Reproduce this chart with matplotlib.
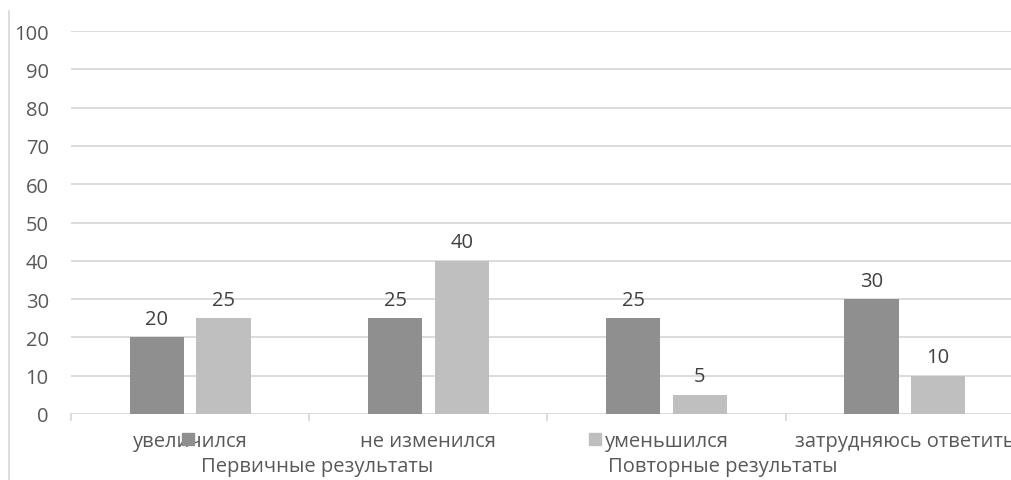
import matplotlib
matplotlib.use('Agg')
import matplotlib.pyplot as plt
from matplotlib.lines import Line2D
from matplotlib.patches import Rectangle
import numpy as np

plt.rcParams['font.family'] = ['Open Sans', 'DejaVu Sans']

# data
categories = ['увеличился', 'не изменился', 'уменьшился', 'затрудняюсь ответить']
series_names = ['Первичные результаты', 'Повторные результаты']
first_results = [20, 25, 25, 30]
repeat_results = [25, 40, 5, 10]
y_ticks = list(range(0, 101, 10))

dark = '#8f8f8f'
light = '#bfbfbf'
grid_color = '#d9d9d9'
label_color = '#595959'
value_color = '#404040'

W, H = 1012, 481
fig = plt.figure(figsize=(W / 100, H / 100), dpi=100)

# plot area runs past the right edge, as in the reference
ax = fig.add_axes([71 / W, (H - 415) / H, 953 / W, 383 / H])
ax.set_xlim(-0.5, len(categories) - 0.5)
ax.set_ylim(0, 100)

x = np.arange(len(categories))
bw = 0.227
off = 0.14
b1 = ax.bar(x - off, first_results, bw, color=dark, zorder=3)
b2 = ax.bar(x + off, repeat_results, bw, color=light, zorder=3)

for bars in (b1, b2):
    for rect in bars:
        h = rect.get_height()
        ax.text(rect.get_x() + rect.get_width() / 2, h + 2.2, f'{h:g}',
                ha='center', va='bottom', fontsize=14.5, color=value_color)

for s in ax.spines.values():
    s.set_visible(False)

ax.set_yticks(y_ticks)
ax.yaxis.grid(True, color=grid_color, lw=1.3, zorder=0)
ax.tick_params(axis='y', length=0, pad=16, labelsize=14.5, labelcolor=label_color)

ax.set_xticks(x)
ax.set_xticklabels(categories)
ax.tick_params(axis='x', length=0, pad=12, labelsize=14.5, labelcolor=label_color)

# category boundary tick marks below the axis
for b in np.arange(-0.5, len(categories), 1.0):
    ax.plot([b, b], [0, -1.6], color=grid_color, lw=1.3, clip_on=False, zorder=2)

# left border of the chart area
fig.add_artist(Line2D([8.5 / W, 8.5 / W], [0, (H - 12) / H], color=grid_color, lw=1.2))

# legend, overlapping the category labels
leg_y = (H - 467) / H
for xs, name, col in [(182, series_names[0], dark), (589, series_names[1], light)]:
    fig.add_artist(Rectangle((xs / W, (H - 446) / H), 12 / W, 12 / H,
                             transform=fig.transFigure, color=col))
    fig.text((xs + 19) / W, leg_y, name, ha='left', va='center',
             fontsize=14.5, color=label_color)

fig.savefig('out.png', dpi=100)
